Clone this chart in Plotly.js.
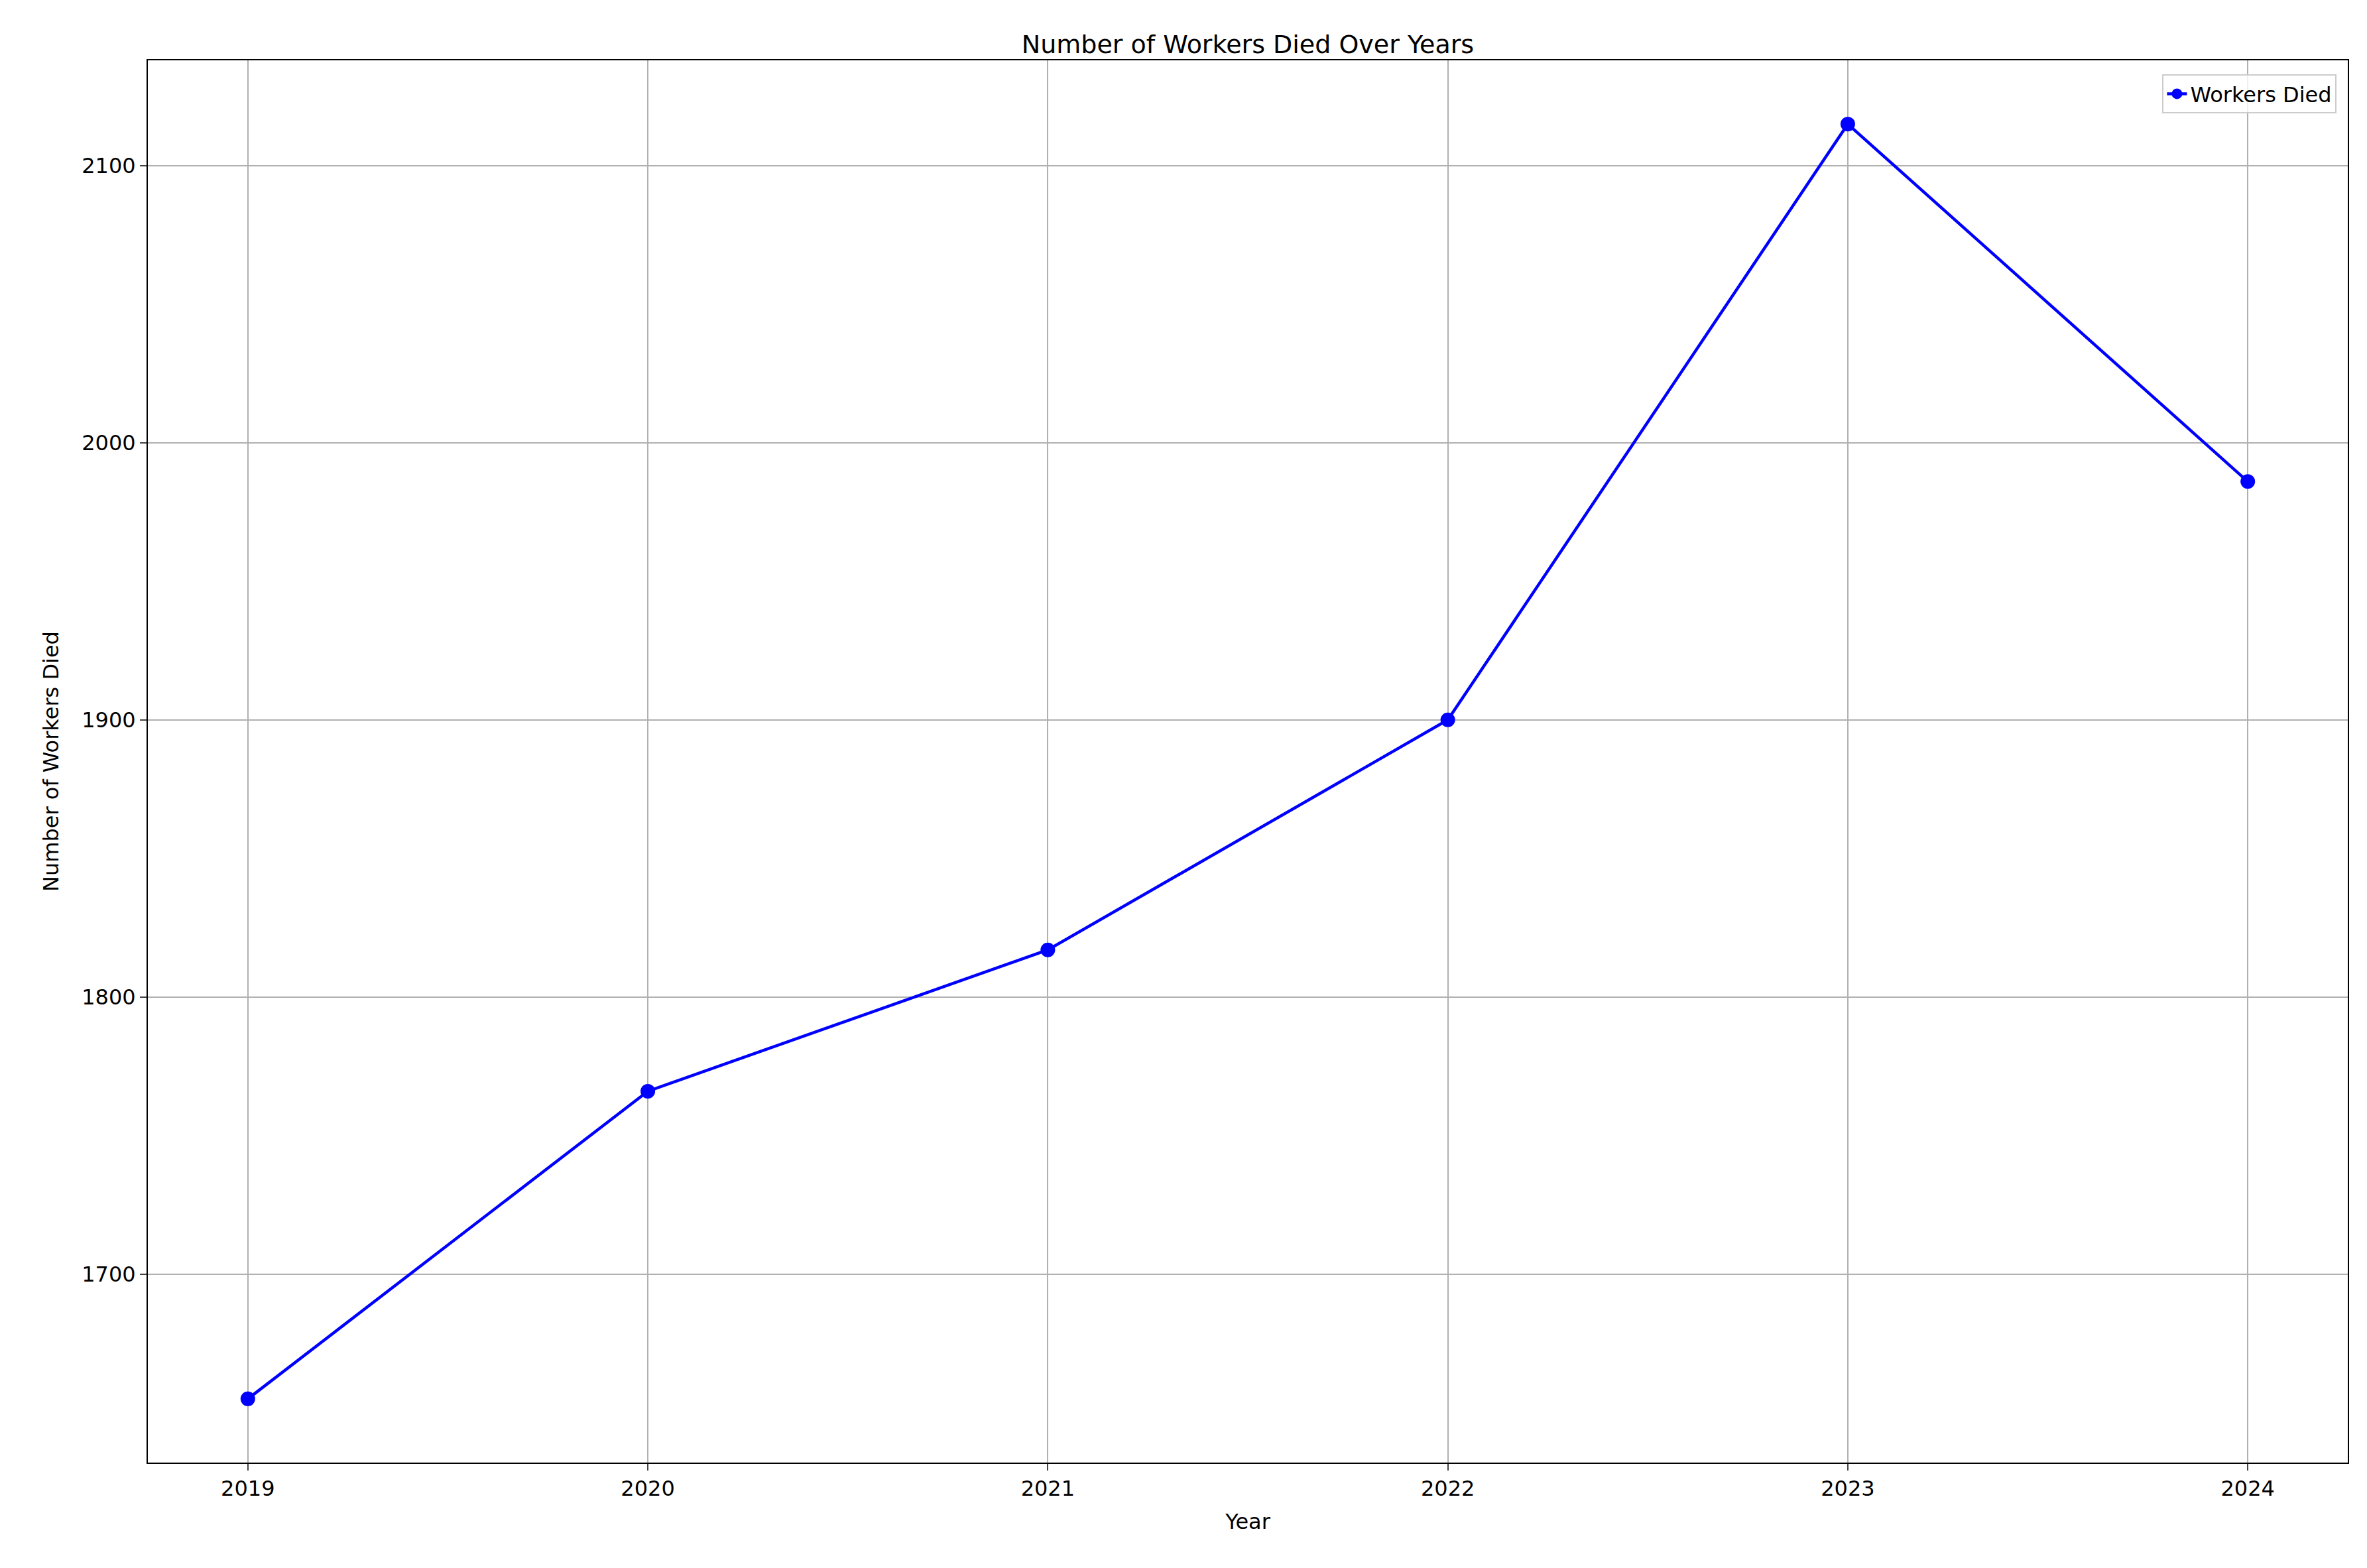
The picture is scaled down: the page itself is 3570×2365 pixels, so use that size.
<!DOCTYPE html>
<html><head><script src="https://cdn.plot.ly/plotly-3.0.1.min.js"></script>
<style>body{margin:0}</style></head><body>
<div id="c" style="width:3570px;height:2365px"></div>
<script>
const years = [2019, 2020, 2021, 2022, 2023, 2024];
const workersDied = [1655, 1766, 1817, 1900, 2115, 1986];
const font = {family: "DejaVu Sans", size: 32, color: "#000"};
Plotly.newPlot("c", [{
  x: years, y: workersDied, type: "scatter", mode: "lines+markers", name: "Workers Died",
  line: {color: "#0000ff", width: 4.5}, marker: {color: "#0000ff", size: 22}
}], {
  width: 3570, height: 2365, font: font,
  paper_bgcolor: "#fff", plot_bgcolor: "#fff",
  margin: {l: 223, r: 29, t: 91, b: 159},
  title: {text: "Number of Workers Died Over Years", font: {family: "DejaVu Sans", size: 38}, x: 0.5, xref: "paper", y: 0.966, yanchor: "bottom"},
  xaxis: {range: [2018.75, 2024.25], tickvals: years, ticks: "outside", ticklen: 10, tickwidth: 2,
    showgrid: true, gridcolor: "#b0b0b0", gridwidth: 2, zeroline: false,
    showline: true, mirror: true, linecolor: "#000", linewidth: 2,
    title: {text: "Year", font: font, standoff: 20}},
  yaxis: {range: [1632, 2138], tickvals: [1700, 1800, 1900, 2000, 2100], ticks: "outside", ticklen: 10, tickwidth: 2,
    showgrid: true, gridcolor: "#b0b0b0", gridwidth: 2, zeroline: false,
    showline: true, mirror: true, linecolor: "#000", linewidth: 2,
    title: {text: "Number of Workers Died", font: font, standoff: 25}},
  showlegend: true,
  legend: {x: 0.995, y: 0.99, xanchor: "right", yanchor: "top", bgcolor: "rgba(255,255,255,0.8)",
    bordercolor: "#ccc", borderwidth: 2, font: font}
}, {displayModeBar: false});
</script></body></html>
